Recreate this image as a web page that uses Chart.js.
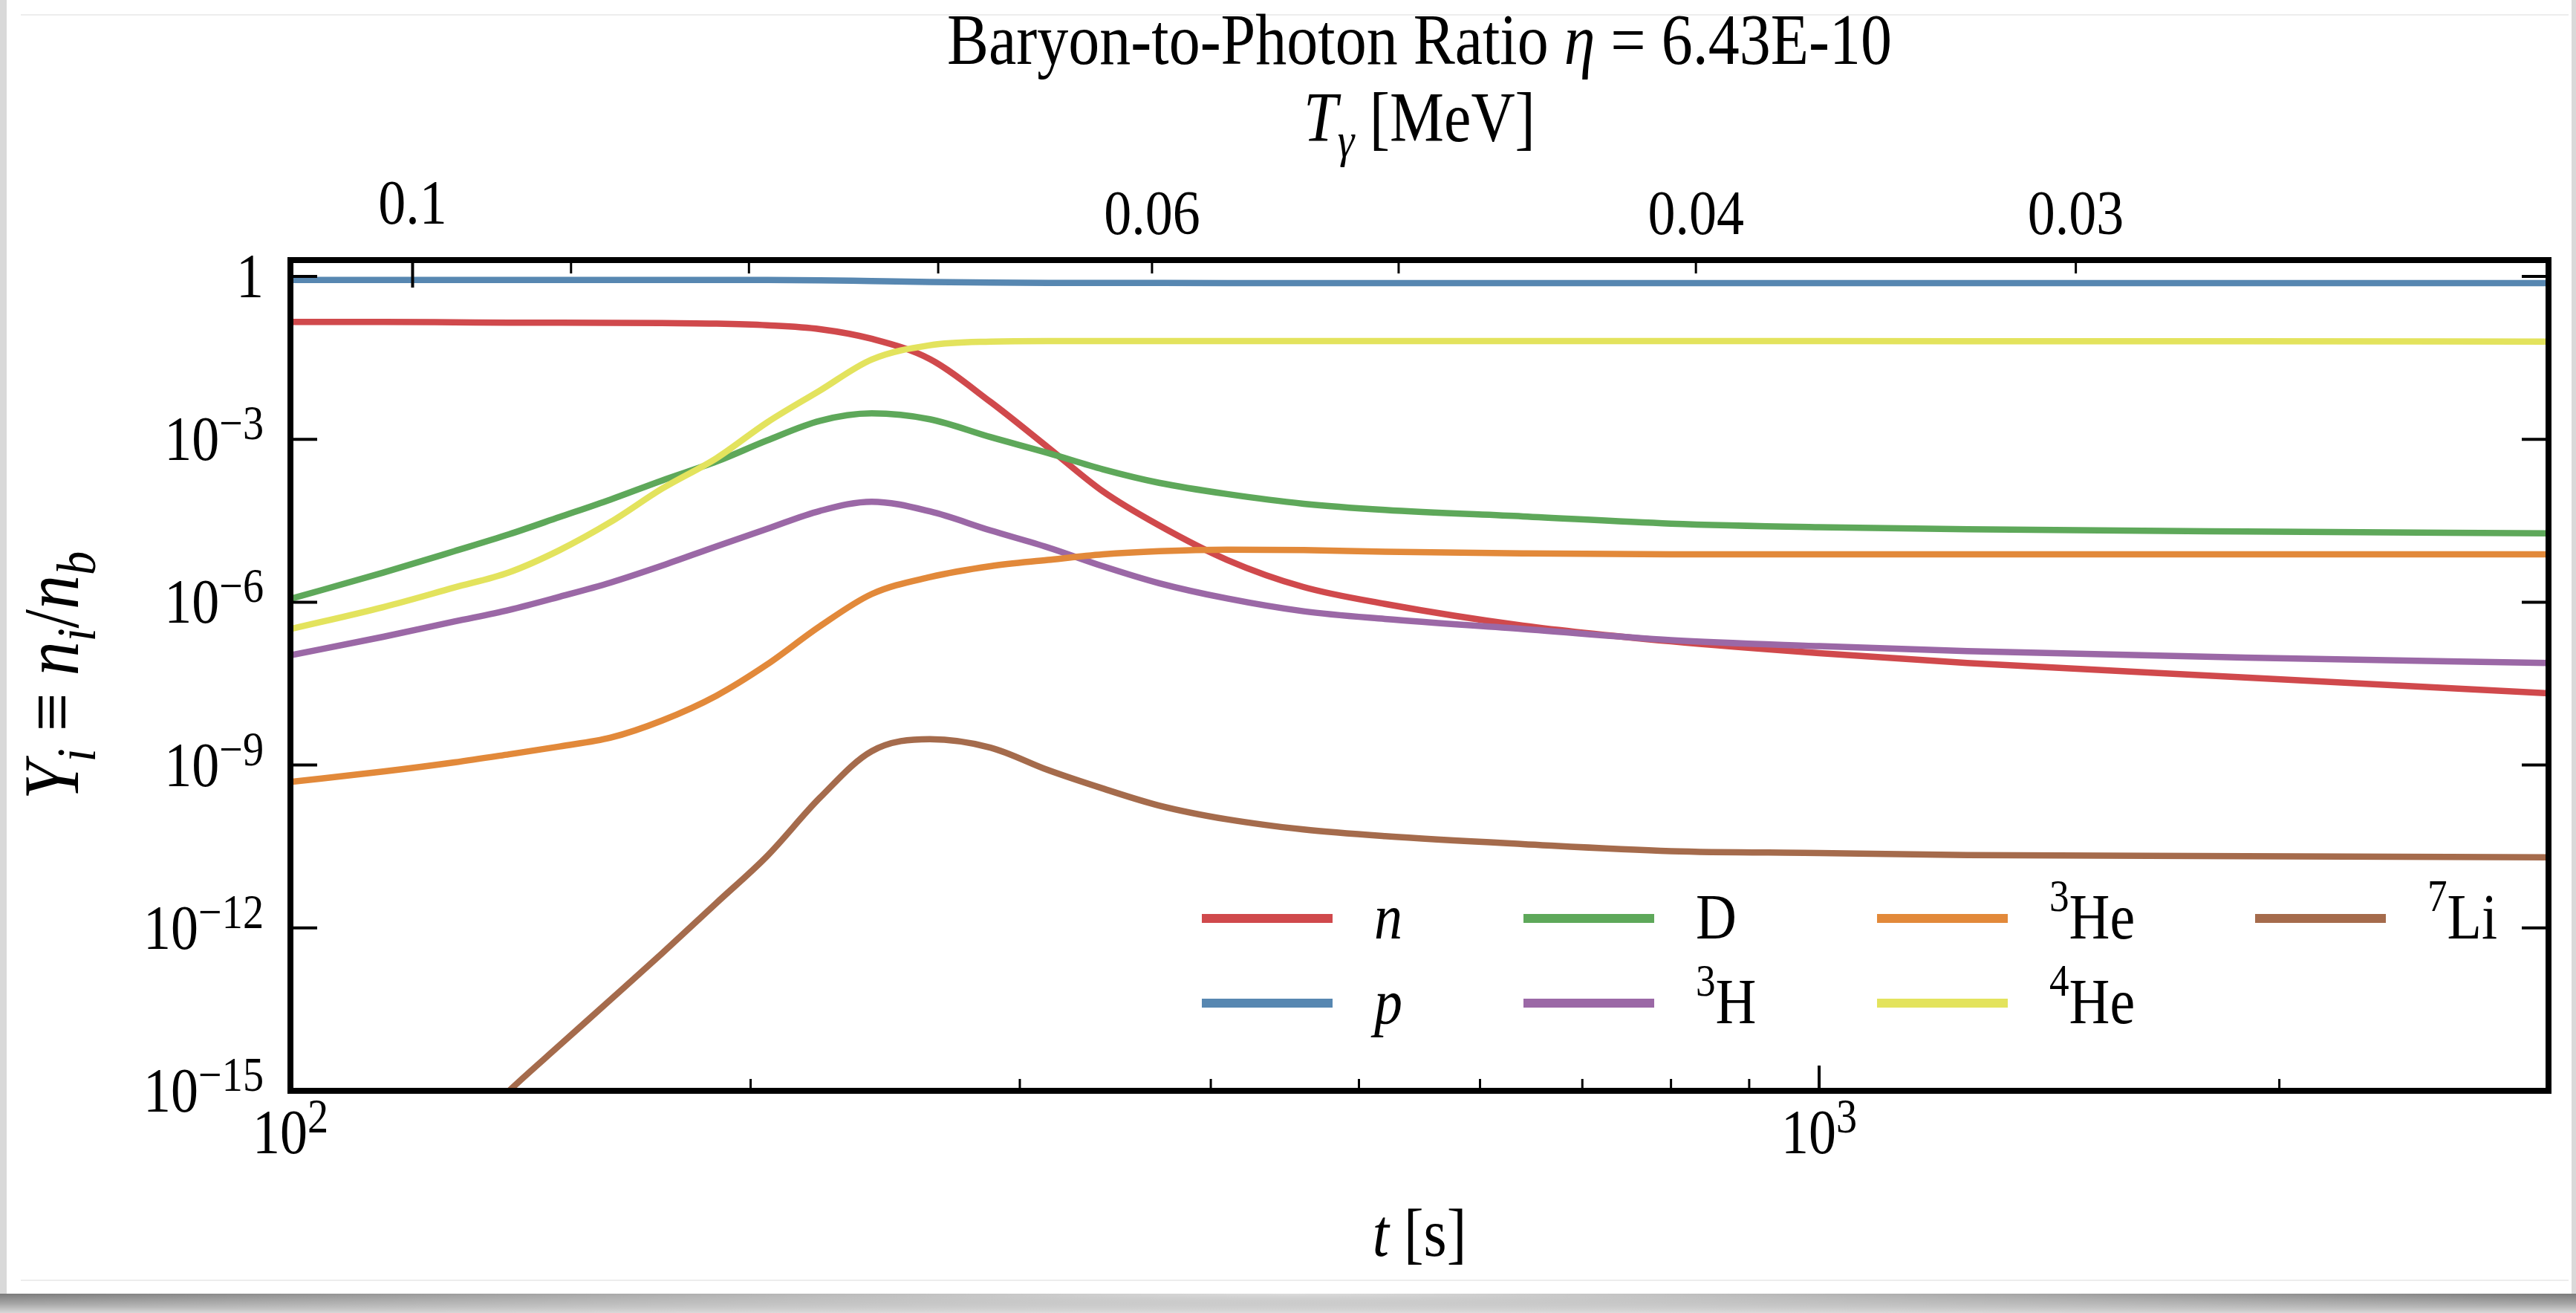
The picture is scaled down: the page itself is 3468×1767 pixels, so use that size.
<!DOCTYPE html>
<html>
<head>
<meta charset="utf-8">
<title>Baryon-to-Photon Ratio</title>
<script src="https://cdn.jsdelivr.net/npm/chart.js@4.4.1/dist/chart.umd.min.js"></script>
<style>
  html, body { margin: 0; padding: 0; background: #fff; }
  body { width: 3468px; height: 1767px; position: relative; overflow: hidden; }
  .edge { position: absolute; top: 0; bottom: 0; background: #d9d9d9; }
  .edge.left { left: 0; width: 9px; }
  .edge.right { right: 0; width: 6px; }
  .sheet { position: absolute; left: 28px; right: 10px; top: 19px; height: 1701px;
           border-top: 2px solid #ededed; border-bottom: 2px solid #ededed; }
  .curl { position: absolute; left: 0; right: 0; top: 1741px; bottom: 0;
          background: radial-gradient(ellipse 55% 120% at 50% 0%, rgba(255,255,255,0.75), rgba(255,255,255,0) 100%),
                      linear-gradient(to bottom, #707070, #d8d8d8); }
  canvas { position: absolute; left: 0; top: 0; }
</style>
</head>
<body>
<div class="edge left"></div>
<div class="edge right"></div>
<div class="sheet"></div>
<div class="curl"></div>
<canvas id="chart" width="3468" height="1767"></canvas>
<script>
const FONT = '"Liberation Serif", "Times New Roman", serif'
const STRETCH = 1.15

// time samples [s]
const times = [100, 115, 128, 139, 150, 162, 175, 190, 205, 222, 240, 262, 287, 313, 340, 370, 410, 460, 520, 640, 800, 1000, 1250, 1900, 3000]

// abundances Y_i = n_i / n_b at each time
const neutron   = [0.145, 0.145, 0.143, 0.141, 0.141, 0.140, 0.138, 0.135, 0.126, 0.107, 0.071, 0.030, 4.9e-3, 7.1e-4, 1.1e-4, 2.6e-5, 6.0e-6, 1.9e-6, 9.3e-7, 3.7e-7, 1.9e-7, 1.15e-7, 7.6e-8, 4.1e-8, 2.1e-8]
const proton    = [0.86, 0.86, 0.86, 0.86, 0.86, 0.86, 0.86, 0.86, 0.86, 0.85, 0.82, 0.79, 0.77, 0.76, 0.757, 0.756, 0.755, 0.755, 0.755, 0.755, 0.755, 0.755, 0.755, 0.755, 0.755]
const deuterium = [1.15e-6, 3.5e-6, 8.7e-6, 1.78e-5, 3.7e-5, 7.8e-5, 1.74e-4, 3.9e-4, 9.5e-4, 2.19e-3, 3.0e-3, 2.34e-3, 1.10e-3, 5.6e-4, 2.8e-4, 1.58e-4, 9.8e-5, 6.5e-5, 5.0e-5, 3.8e-5, 2.8e-5, 2.4e-5, 2.2e-5, 2.0e-5, 1.86e-5]
const tritium   = [1.05e-7, 2.3e-7, 4.4e-7, 7.2e-7, 1.26e-6, 2.3e-6, 4.7e-6, 1.07e-5, 2.24e-5, 4.8e-5, 7.1e-5, 4.7e-5, 2.1e-5, 1.02e-5, 4.6e-6, 2.24e-6, 1.17e-6, 6.8e-7, 4.9e-7, 3.2e-7, 2.0e-7, 1.55e-7, 1.26e-7, 9.5e-8, 7.6e-8]
const helium3   = [4.9e-10, 7.6e-10, 1.12e-9, 1.58e-9, 2.2e-9, 3.2e-9, 6.6e-9, 1.9e-8, 7.1e-8, 3.6e-7, 1.41e-6, 2.9e-6, 4.6e-6, 6.0e-6, 7.6e-6, 8.7e-6, 9.3e-6, 9.1e-6, 8.5e-6, 7.9e-6, 7.6e-6, 7.6e-6, 7.6e-6, 7.6e-6, 7.6e-6]
const helium4   = [3.2e-7, 8.1e-7, 1.86e-6, 3.55e-6, 9.1e-6, 3.0e-5, 1.23e-4, 4.5e-4, 2.04e-3, 7.9e-3, 0.0295, 0.054, 0.063, 0.0646, 0.0646, 0.0646, 0.0646, 0.0646, 0.0645, 0.0645, 0.0644, 0.0643, 0.0642, 0.0638, 0.0631]
const lithium7  = [null, null, 1.0e-16, 1.0e-15, 6.9e-15, 4.8e-14, 3.4e-13, 2.9e-12, 2.1e-11, 2.5e-10, 1.8e-9, 3.0e-9, 2.1e-9, 8.1e-10, 3.7e-10, 1.8e-10, 1.0e-10, 6.5e-11, 4.9e-11, 3.5e-11, 2.6e-11, 2.4e-11, 2.2e-11, 2.1e-11, 2.0e-11]

const speciesNames   = ['n', 'p', 'D', '³H', '³He', '⁴He', '⁷Li']
const speciesMass    = ['', '', '', '3', '3', '4', '7']
const speciesSymbol  = ['n', 'p', 'D', 'H', 'He', 'He', 'Li']
const speciesItalic  = [true, true, false, false, false, false, false]
const speciesColors  = ['#d0494c', '#5787b1', '#5ea85a', '#9b68a6', '#e2893a', '#e3e35d', '#a56b4c']
const seriesValues   = [neutron, proton, deuterium, tritium, helium3, helium4, lithium7]

// axis ticks
const xMajorTicks = [100, 1000]
const xMajorExponents = ['2', '3']
const xMinorTicks = [200, 300, 400, 500, 600, 700, 800, 900, 2000, 3000]
const yMajorTicks = [1, 1e-3, 1e-6, 1e-9, 1e-12, 1e-15]
const yTickExponents = ['', '−3', '−6', '−9', '−12', '−15']

// photon temperature [MeV] and the time at which it is reached [s]
const tempTicks = [0.1, 0.09, 0.08, 0.07, 0.06, 0.05, 0.04, 0.03]
const tempTickTimes = [120.2, 152.6, 199.5, 265.3, 366.1, 530.8, 830.6, 1472]
const tempTickLabels = ['0.1', '', '', '', '0.06', '', '0.04', '0.03']

function setFont(ctx, size, italic) {
  ctx.font = (italic ? 'italic ' : '') + size + 'px ' + FONT
}

// a line of text with super/subscripts, baseline at y
function drawRuns(ctx, runs, x, y, size, align, opts = {}) {
  const scriptScale = opts.scriptScale || 0.7
  const supShift = opts.supShift || 0.42
  const subShift = opts.subShift || 0.22
  const pieces = runs.map(r => {
    const s = (r.sup || r.sub) ? size * scriptScale : size
    setFont(ctx, s, r.it)
    return { r, s, w: ctx.measureText(r.t).width }
  })
  const total = pieces.reduce((sum, p) => sum + p.w, 0)
  let cx = align === 'center' ? x - total / 2 : align === 'right' ? x - total : x
  ctx.save()
  ctx.translate(0, y)
  ctx.scale(1, STRETCH)
  ctx.textAlign = 'left'
  ctx.textBaseline = 'alphabetic'
  ctx.fillStyle = '#000'
  for (const p of pieces) {
    setFont(ctx, p.s, p.r.it)
    const dy = p.r.sup ? -size * supShift : p.r.sub ? size * subShift : 0
    ctx.fillText(p.r.t, cx, dy)
    cx += p.w
  }
  ctx.restore()
}

function tickLine(ctx, x1, y1, x2, y2, w) {
  ctx.lineWidth = w
  ctx.beginPath()
  ctx.moveTo(x1, y1)
  ctx.lineTo(x2, y2)
  ctx.stroke()
}

const TICK_SIZE = 74
const tickOpts = { supShift: 0.33, scriptScale: 0.76 }

const axesDecor = {
  id: 'axesDecor',
  afterDatasetsDraw(chart) {
    const { ctx, chartArea: a, scales } = chart
    const x = scales.x, xTop = scales.xTop, y = scales.y
    const midX = (a.left + a.right) / 2

    ctx.save()
    ctx.strokeStyle = '#000'
    ctx.lineCap = 'butt'

    // frame
    ctx.lineWidth = 8
    ctx.strokeRect(a.left, a.top, a.width, a.height)

    // bottom axis: time
    xMajorTicks.forEach((v, i) => {
      const px = x.getPixelForValue(v)
      tickLine(ctx, px, a.bottom, px, a.bottom - 34, 4)
      drawRuns(ctx, [{ t: '10' }, { t: xMajorExponents[i], sup: true }], px, a.bottom + 84, TICK_SIZE, 'center', tickOpts)
    })
    xMinorTicks.forEach(v => {
      const px = x.getPixelForValue(v)
      tickLine(ctx, px, a.bottom, px, a.bottom - 16, 3)
    })

    // top axis: photon temperature
    tempTicks.forEach((T, i) => {
      const px = xTop.getPixelForValue(tempTickTimes[i])
      const major = i === 0
      tickLine(ctx, px, a.top, px, a.top + (major ? 37 : 18), major ? 4 : 3)
      if (tempTickLabels[i]) {
        drawRuns(ctx, [{ t: tempTickLabels[i] }], px, major ? a.top - 49 : a.top - 35, TICK_SIZE, 'center')
      }
    })

    // left / right axes: abundance
    yMajorTicks.forEach((v, i) => {
      const py = y.getPixelForValue(v)
      tickLine(ctx, a.left, py, a.left + 36, py, 4)
      tickLine(ctx, a.right, py, a.right - 36, py, 4)
      const runs = yTickExponents[i] ? [{ t: '10' }, { t: yTickExponents[i], sup: true }] : [{ t: '1' }]
      drawRuns(ctx, runs, a.left - 36, py + 28, TICK_SIZE, 'right', tickOpts)
    })

    // axis titles
    drawRuns(ctx, [{ t: 't', it: true }, { t: ' [s]' }], midX, 1690, 80, 'center')
    drawRuns(ctx, [{ t: 'T', it: true }, { t: 'γ', it: true, sub: true }, { t: ' [MeV]' }], midX, 190, 82, 'center')
    drawRuns(ctx, [{ t: 'Baryon-to-Photon Ratio ' }, { t: 'η', it: true }, { t: ' = 6.43E-10' }], midX, 86, 84, 'center')

    ctx.save()
    ctx.translate(105, (a.top + a.bottom) / 2)
    ctx.rotate(-Math.PI / 2)
    drawRuns(ctx, [
      { t: 'Y', it: true }, { t: 'i', it: true, sub: true }, { t: ' ≡ ' },
      { t: 'n', it: true }, { t: 'i', it: true, sub: true }, { t: '/' },
      { t: 'n', it: true }, { t: 'b', it: true, sub: true }
    ], 0, 0, 92, 'center')
    ctx.restore()

    // legend, four columns filled top to bottom
    const colX = [a.right - 1813, a.right - 1380, a.right - 904, a.right - 395]
    const rowY = [a.bottom - 232, a.bottom - 118]
    chart.data.datasets.forEach((ds, i) => {
      const col = Math.floor(i / 2), row = i % 2
      const lx = colX[col], ly = rowY[row]
      ctx.strokeStyle = ds.borderColor
      tickLine(ctx, lx, ly, lx + 176, ly, 12)
      const runs = []
      if (speciesMass[i]) runs.push({ t: speciesMass[i], sup: true })
      runs.push({ t: speciesSymbol[i], it: speciesItalic[i] })
      drawRuns(ctx, runs, lx + 232, ly + 27, 76, 'left')
    })
    ctx.restore()
  }
}

const datasets = seriesValues.map((values, i) => ({
  label: speciesNames[i],
  data: times.map((t, k) => ({ x: t, y: values[k] })),
  borderColor: speciesColors[i],
  backgroundColor: speciesColors[i],
  borderWidth: 8.5,
  pointRadius: 0,
  cubicInterpolationMode: 'monotone',
  order: seriesValues.length - i
}))

const hidden = { display: false }

new Chart(document.getElementById('chart').getContext('2d'), {
  type: 'line',
  data: { datasets },
  options: {
    responsive: false,
    animation: false,
    devicePixelRatio: 1,
    layout: { padding: { left: 383, right: 37, top: 342, bottom: 291 } },
    plugins: { legend: hidden, tooltip: { enabled: false } },
    scales: {
      x: {
        type: 'logarithmic', position: 'bottom', min: 100, max: 3000,
        grid: hidden, border: hidden, ticks: hidden
      },
      xTop: {
        type: 'logarithmic', position: 'top', min: 100, max: 3000,
        grid: hidden, border: hidden, ticks: hidden
      },
      y: {
        type: 'logarithmic', position: 'left', min: 1e-15, max: 2,
        grid: hidden, border: hidden, ticks: hidden
      }
    }
  },
  plugins: [axesDecor]
})
</script>
</body>
</html>
